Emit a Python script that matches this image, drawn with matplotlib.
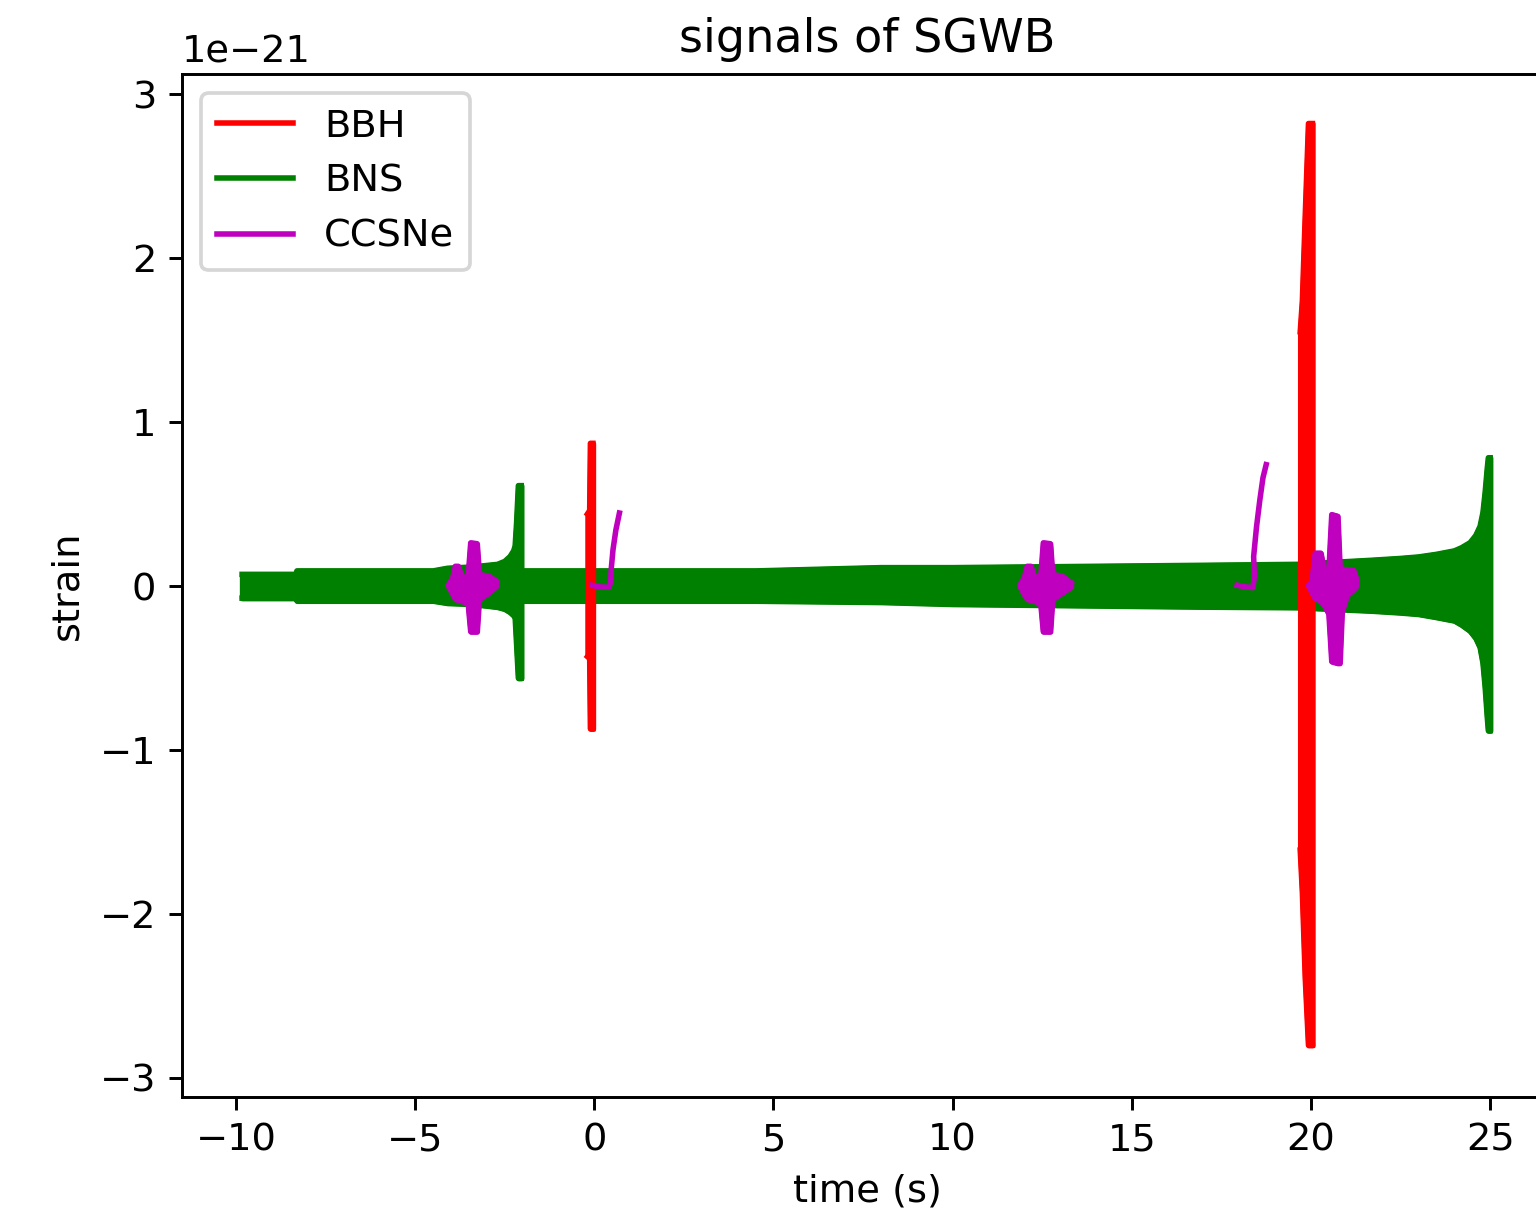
import numpy as np
import matplotlib
matplotlib.use('Agg')
import matplotlib.pyplot as plt

plt.rcParams['font.size'] = 10.4

# strain values below are in units of 1e-21 (envelope of each signal)
unit = 1e-21

# BBH (red) - two mergers
bbh1_t = [-0.19, -0.13, -0.11, -0.04]
bbh1_hi = [0.44, 0.46, 0.87, 0.87]
bbh1_lo = [-0.43, -0.44, -0.87, -0.87]

bbh2_t = [19.70, 19.76, 19.84, 19.93, 20.04]
bbh2_hi = [1.55, 1.74, 2.26, 2.82, 2.82]
bbh2_lo = [-1.61, -1.87, -2.39, -2.80, -2.80]

# BNS (green) - two inspirals
bns1_t = [-9.83, -8.33, -8.30, -4.50, -4.10, -3.40, -2.70, -2.50, -2.35, -2.25, -2.21, -2.17, -2.12, -2.04]
bns1_hi = [0.071, 0.071, 0.092, 0.092, 0.108, 0.116, 0.132, 0.150, 0.180, 0.215, 0.244, 0.384, 0.612, 0.612]
bns1_lo = [-0.074, -0.074, -0.090, -0.090, -0.104, -0.110, -0.128, -0.140, -0.160, -0.180, -0.191, -0.354, -0.562, -0.562]

bns2_t = [-2.03, 4.5, 8.0, 10.0, 16.9, 19.6, 21.7, 22.5, 23.0, 23.5, 24.0, 24.2,
          24.44, 24.6, 24.72, 24.8, 24.86, 24.92, 24.95, 25.0]
bns2_hi = [0.092, 0.092, 0.112, 0.112, 0.126, 0.132, 0.157, 0.168, 0.177, 0.193, 0.214, 0.233,
           0.264, 0.308, 0.364, 0.448, 0.569, 0.718, 0.782, 0.782]
bns2_lo = [-0.090, -0.090, -0.098, -0.110, -0.126, -0.130, -0.151, -0.162, -0.171, -0.190, -0.211, -0.236,
           -0.274, -0.318, -0.374, -0.470, -0.614, -0.800, -0.882, -0.882]

# CCSNe (magenta) - three bursts and two slow drifts
ccsn1_t = [-4.06, -3.95, -3.88, -3.80, -3.70, -3.52, -3.45, -3.28, -3.22, -2.95, -2.74]
ccsn1_hi = [0.01, 0.05, 0.12, 0.12, 0.05, 0.06, 0.263, 0.258, 0.07, 0.06, 0.03]
ccsn1_lo = [-0.005, -0.05, -0.08, -0.085, -0.09, -0.11, -0.278, -0.278, -0.08, -0.04, 0.0]

ccsn2_t = [11.89, 12.00, 12.08, 12.18, 12.28, 12.46, 12.53, 12.72, 12.78, 13.05, 13.30]
ccsn2_hi = [0.01, 0.05, 0.12, 0.12, 0.05, 0.06, 0.263, 0.258, 0.07, 0.06, 0.02]
ccsn2_lo = [-0.005, -0.05, -0.08, -0.085, -0.09, -0.11, -0.278, -0.278, -0.08, -0.04, -0.005]

ccsn3_t = [19.94, 20.03, 20.12, 20.27, 20.36, 20.50, 20.58, 20.74, 20.80, 20.86, 21.00, 21.18, 21.26]
ccsn3_hi = [0.0, 0.03, 0.20, 0.20, 0.095, 0.095, 0.435, 0.425, 0.11, 0.10, 0.10, 0.095, 0.045]
ccsn3_lo = [0.0, -0.04, -0.075, -0.09, -0.112, -0.17, -0.46, -0.47, -0.47, -0.155, -0.055, -0.02, 0.0]

drift1_t = [-0.06, 0.15, 0.40, 0.45, 0.47, 0.52, 0.60, 0.70]
drift1_v = [0.004, -0.005, -0.008, 0.02, 0.10, 0.22, 0.34, 0.445]

drift2_t = [17.94, 18.15, 18.38, 18.42, 18.40, 18.48, 18.57, 18.66, 18.75]
drift2_v = [0.005, -0.005, -0.01, 0.06, 0.18, 0.36, 0.52, 0.66, 0.74]

dpi = 266
fig = plt.figure(figsize=(1536 / dpi, 1215 / dpi), dpi=dpi)
ax = fig.add_axes([0.1185, 0.0971, 0.892, 0.842])


def band(t, lo, hi, c, z, label=None):
    t = np.array(t)
    lo = np.array(lo) * unit
    hi = np.array(hi) * unit
    ax.fill_between(t, lo, hi, color=c, lw=1.5, zorder=z)
    h, = ax.plot(t, hi, color=c, zorder=z, label=label)
    ax.plot(t, lo, color=c, zorder=z)
    return h


h_bns = band(bns1_t, bns1_lo, bns1_hi, 'g', 1, 'BNS')
band(bns2_t, bns2_lo, bns2_hi, 'g', 1)
h_bbh = band(bbh1_t, bbh1_lo, bbh1_hi, 'r', 2, 'BBH')
band(bbh2_t, bbh2_lo, bbh2_hi, 'r', 2)
h_cc = band(ccsn1_t, ccsn1_lo, ccsn1_hi, 'm', 3, 'CCSNe')
band(ccsn2_t, ccsn2_lo, ccsn2_hi, 'm', 3)
band(ccsn3_t, ccsn3_lo, ccsn3_hi, 'm', 3)
ax.plot(drift1_t, np.array(drift1_v) * unit, color='m', zorder=3)
ax.plot(drift2_t, np.array(drift2_v) * unit, color='m', zorder=3)

ax.set_xlim(-11.507, 26.73)
ax.set_ylim(-3.116 * unit, 3.122 * unit)
ax.set_xticks([-10, -5, 0, 5, 10, 15, 20, 25])
ax.set_title('signals of SGWB')
ax.set_xlabel('time (s)')
ax.set_ylabel('strain')
ax.legend(handles=[h_bbh, h_bns, h_cc], loc='upper left')

fig.savefig('out.png', dpi=dpi)
